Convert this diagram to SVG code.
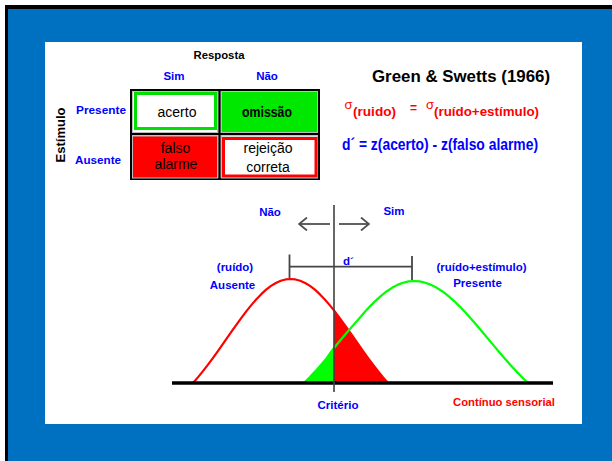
<svg xmlns="http://www.w3.org/2000/svg" width="612" height="461" viewBox="0 0 612 461">
<style>
  text { font-family: "Liberation Sans", Arial, sans-serif; }
  .blue { fill: #0000ff; font-weight: bold; font-size: 11.5px; }
  .cell { font-size: 14px; fill: #000; text-anchor: middle; }
  .mid { text-anchor: middle; }
  .gline { stroke: #454545; stroke-width: 1.8; fill: none; }
</style>
<defs>
  <marker id="openHead" viewBox="0 0 10 14" refX="9" refY="7" markerWidth="10" markerHeight="14" markerUnits="userSpaceOnUse" orient="auto">
    <polyline points="1,0.5 9,7 1,13.5" fill="none" stroke="#505050" stroke-width="1.8"/>
  </marker>
</defs>

<!-- background -->
<rect x="0" y="0" width="612" height="461" fill="#ffffff"/>
<rect x="5" y="5" width="607" height="456" fill="#0070c0"/>
<rect x="5" y="5" width="607" height="4" fill="#000"/>
<rect x="5" y="5" width="3" height="456" fill="#000"/>
<rect x="45" y="42" width="537" height="382" fill="#ffffff"/>

<!-- table -->
<g id="table">
  <rect x="131" y="90" width="188" height="89" fill="#c8c8c8" stroke="#000" stroke-width="2"/>
  <g id="cell-acerto">
    <rect x="132.5" y="91.5" width="85" height="41" fill="#fff" stroke="#bdbdbd" stroke-width="1"/>
    <rect x="135.5" y="93.5" width="80" height="35" fill="none" stroke="#00e000" stroke-width="3"/>
    <text class="cell" x="177" y="117">acerto</text>
  </g>
  <g id="cell-omissao">
    <rect x="221.5" y="91.5" width="96" height="41" fill="#00e800" stroke="#bdbdbd" stroke-width="1"/>
    <text class="cell" x="267" y="117" font-weight="bold" textLength="50" lengthAdjust="spacingAndGlyphs">omissão</text>
  </g>
  <g id="cell-falso-alarme">
    <rect x="132.5" y="136" width="85" height="42" fill="#ff0000" stroke="#bdbdbd" stroke-width="1"/>
    <text class="cell" x="175.5" y="153">falso</text>
    <text class="cell" x="176" y="168.5">alarme</text>
  </g>
  <g id="cell-rejeicao">
    <rect x="221.5" y="136" width="96" height="42" fill="#fff" stroke="#bdbdbd" stroke-width="1"/>
    <rect x="223.5" y="138.5" width="92.5" height="37.5" fill="none" stroke="#ff0000" stroke-width="3"/>
    <text class="cell" x="268" y="153">rejeição</text>
    <text class="cell" x="268" y="172">correta</text>
  </g>
  <line x1="219.5" y1="90" x2="219.5" y2="179" stroke="#000" stroke-width="2.2"/>
  <line x1="131" y1="134" x2="319" y2="134" stroke="#000" stroke-width="2.2"/>
</g>

<g id="table-labels">
  <text x="219" y="59" class="mid" font-size="11" font-weight="bold" fill="#000" textLength="51" lengthAdjust="spacingAndGlyphs">Resposta</text>
  <text x="174" y="80" class="blue mid" font-size="11">Sim</text>
  <text x="267" y="80" class="blue mid" font-size="11">Não</text>
  <text x="76" y="114" class="blue" font-size="11" textLength="50" lengthAdjust="spacingAndGlyphs">Presente</text>
  <text x="75" y="163.5" class="blue" font-size="11" textLength="46" lengthAdjust="spacingAndGlyphs">Ausente</text>
  <text transform="translate(65,135) rotate(-90)" class="mid" font-size="13" font-weight="bold" fill="#000">Estímulo</text>
</g>

<g id="formulas">
  <text x="372" y="82" font-size="17" font-weight="bold" fill="#000" textLength="178" lengthAdjust="spacingAndGlyphs">Green &amp; Swetts (1966)</text>
  <text x="344.5" y="109" font-size="13" fill="#ff0000">σ</text>
  <text x="353" y="116" font-size="13" font-weight="bold" fill="#ff0000" textLength="43" lengthAdjust="spacingAndGlyphs">(ruido)</text>
  <text x="410" y="112" font-size="12" font-weight="bold" fill="#ff0000">=</text>
  <text x="426" y="109" font-size="13" fill="#ff0000">σ</text>
  <text x="434" y="116" font-size="13" font-weight="bold" fill="#ff0000" textLength="105" lengthAdjust="spacingAndGlyphs">(ruído+estímulo)</text>
  <text x="342" y="150" font-size="16" font-weight="bold" fill="#0000ff" textLength="196" lengthAdjust="spacingAndGlyphs">d´ = z(acerto) - z(falso alarme)</text>
</g>

<!-- distributions -->
<g id="fill-green">
  <path d="M304,383 L309.5,377.46 L315,371.62 L320.5,365.49 L326,359.06 L331.5,351.2 L334,348.3 L334,383 Z" fill="#00ff00"/>
</g>
<g id="fill-red">
  <path d="M334,383 L334,310.8 L334.375,310.93 L339.25,317.38 L344.125,324.10 L349,330.99 L353.875,337.96 L358.75,344.94 L363.625,351.84 L368.5,358.59 L373.375,365.14 L378.25,371.40 L383.125,377.35 L388,383 Z" fill="#ff0000"/>
</g>
<g id="curve-ruido">
  <polyline fill="none" stroke="#ff0000" stroke-width="2.2" stroke-linejoin="round" points="193,383 197.875,377.35 202.75,371.40 207.625,365.14 212.5,358.59 217.375,351.84 222.25,344.94 227.125,337.96 232,330.99 236.875,324.10 241.75,317.38 246.625,310.93 251.5,304.85 256.375,299.22 261.25,294.14 266.125,289.68 271,285.93 275.875,282.94 280.75,280.76 285.625,279.44 290.5,279 295.375,279.44 300.25,280.76 305.125,282.94 310,285.93 314.875,289.68 319.75,294.14 324.625,299.22 329.5,304.85 334.375,310.93 339.25,317.38 344.125,324.10 349,330.99 353.875,337.96 358.75,344.94 363.625,351.84 368.5,358.59 373.375,365.14 378.25,371.40 383.125,377.35 388,383"/>
</g>
<g id="curve-ruido-estimulo">
  <polyline fill="none" stroke="#00ff00" stroke-width="2.2" stroke-linejoin="round" points="304,383 309.5,377.46 315,371.62 320.5,365.49 326,359.06 331.5,351.2 337,344.3 342.5,337.8 348,331.3 353.5,324.9 359,318.65 364.5,312.32 370,306.35 375.5,300.83 381,295.85 386.5,291.48 392,287.80 397.5,284.86 403,282.73 408.5,281.43 414,281 419.7,281.43 425.4,282.73 431.1,284.86 436.8,287.80 442.5,291.48 448.2,295.85 453.9,300.83 459.6,306.35 465.3,312.32 471,318.65 476.7,325.23 482.4,331.99 488.1,338.83 493.8,345.67 499.5,352.44 505.2,359.06 510.9,365.49 516.6,371.62 522.3,377.46 528,383"/>
</g>

<g id="axis">
  <line x1="172" y1="383" x2="553" y2="383" stroke="#000" stroke-width="3.5"/>
</g>
<g id="criterio-line">
  <line x1="334" y1="205" x2="334" y2="392" stroke="#404040" stroke-width="1.6"/>
</g>

<g id="connectors">
  <line x1="330" y1="224" x2="299" y2="224" stroke="#505050" stroke-width="1.8" marker-end="url(#openHead)"/>
  <line x1="339" y1="224" x2="369" y2="224" stroke="#505050" stroke-width="1.8" marker-end="url(#openHead)"/>
  <g id="d-prime-bracket">
    <line class="gline" x1="289.5" y1="266.7" x2="412" y2="266.7"/>
    <line class="gline" x1="289.5" y1="254.5" x2="289.5" y2="278"/>
    <line class="gline" x1="412" y1="256" x2="412" y2="280"/>
  </g>
</g>

<g id="chart-labels">
  <text x="270" y="216" class="blue mid">Não</text>
  <text x="394" y="215" class="blue mid">Sim</text>
  <text x="343" y="264.5" class="blue" font-size="12">d´</text>
  <text x="235" y="271" class="blue mid">(ruído)</text>
  <text x="232.5" y="289" class="blue mid">Ausente</text>
  <text x="481.5" y="271" class="blue mid" textLength="90" lengthAdjust="spacingAndGlyphs">(ruído+estímulo)</text>
  <text x="477.5" y="287" class="blue mid">Presente</text>
  <text x="338" y="409" class="blue mid">Critério</text>
  <text x="453" y="405.5" class="blue" fill="#ff0000" style="fill:#ff0000" textLength="102" lengthAdjust="spacingAndGlyphs">Contínuo sensorial</text>
</g>
</svg>
